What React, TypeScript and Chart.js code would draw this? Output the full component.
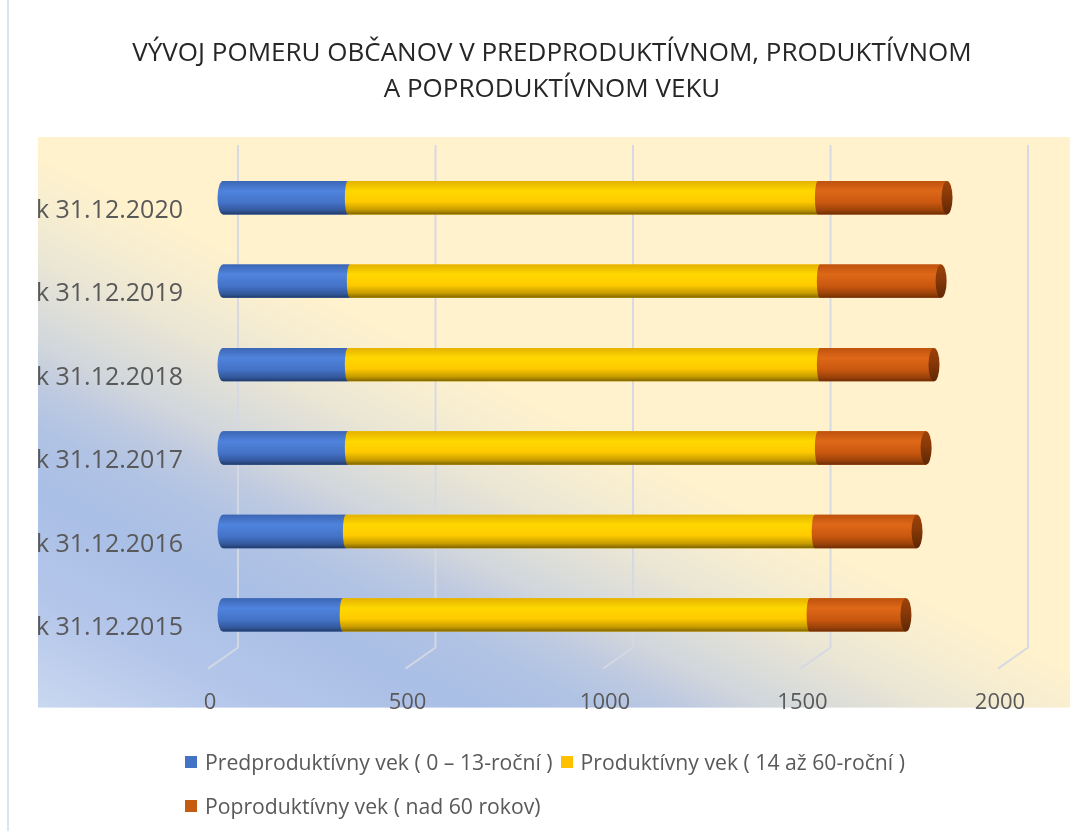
import React, { useEffect, useRef } from "react";
import { Chart, registerables } from "chart.js";

Chart.register(...registerables);

// ---- data ----
const categories = [
  "k 31.12.2015",
  "k 31.12.2016",
  "k 31.12.2017",
  "k 31.12.2018",
  "k 31.12.2019",
  "k 31.12.2020",
];
const preProductive = [303, 311, 316, 316, 321, 316];
const productive = [1182, 1187, 1190, 1195, 1190, 1190];
const postProductive = [244, 259, 274, 289, 307, 327];
const seriesNames = [
  "Predproduktívny vek ( 0 – 13-roční )",
  "Produktívny vek ( 14 až 60-roční )",
  "Poproduktívny vek ( nad 60 rokov)",
];
const xTickValues = [0, 500, 1000, 1500, 2000];
const titleLines = [
  "VÝVOJ POMERU OBČANOV V PREDPRODUKTÍVNOM, PRODUKTÍVNOM",
  "A POPRODUKTÍVNOM VEKU",
];

// ---- styles ----
const FONT = "'Open Sans', 'Noto Sans', sans-serif";
const seriesColors = ["#4472C4", "#FFC000", "#C55A11"];
const shadeStops: [number, string][][] = [
  [
    [0, "#3C66B4"],
    [0.3, "#4F83DD"],
    [0.65, "#4473C7"],
    [0.88, "#33589C"],
    [1, "#213A68"],
  ],
  [
    [0, "#E3B200"],
    [0.3, "#FFD800"],
    [0.62, "#FFCA00"],
    [0.86, "#C79C00"],
    [1, "#7E6400"],
  ],
  [
    [0, "#BF520E"],
    [0.3, "#DE6818"],
    [0.65, "#C9570F"],
    [0.88, "#9A420A"],
    [1, "#6E2D05"],
  ],
];

const titleShiftPlugin = {
  id: "titleShift",
  afterLayout(chart: any) {
    const tb = chart.titleBlock;
    if (tb) {
      tb.left = 38;
      tb.right = chart.width - 19;
    }
  },
};

const backgroundPlugin = {
  id: "bgGradient",
  beforeDraw(chart: any) {
    const { ctx, chartArea } = chart;
    if (!chartArea) return;
    const left = chart.scales.y.left;
    const top = chartArea.top - 19;
    const right = chart.width - 15;
    const bottom = chartArea.bottom + 51;
    const nx = 0.447;
    const ny = -0.894;
    const len = 971;
    const g = ctx.createLinearGradient(left, bottom, left + nx * len, bottom + ny * len);
    g.addColorStop(0, "#C9D8F0");
    g.addColorStop(0.1, "#B4C6EA");
    g.addColorStop(0.2, "#AABFE6");
    g.addColorStop(0.26, "#B1C3E4");
    g.addColorStop(0.3, "#BFCAE0");
    g.addColorStop(0.335, "#D0D6DC");
    g.addColorStop(0.38, "#DFDFD8");
    g.addColorStop(0.42, "#ECE7D4");
    g.addColorStop(0.47, "#F8EED0");
    g.addColorStop(0.51, "#FFF2CC");
    g.addColorStop(1, "#FFF2CC");
    ctx.save();
    ctx.fillStyle = g;
    ctx.fillRect(left, top, right - left, bottom - top);
    ctx.restore();
  },
};

const gridPlugin = {
  id: "grid3d",
  beforeDatasetsDraw(chart: any) {
    const { ctx, chartArea } = chart;
    const xs = chart.scales.x;
    ctx.save();
    ctx.strokeStyle = "rgba(212,216,228,0.95)";
    ctx.lineWidth = 2;
    xTickValues.forEach((v) => {
      const xv = xs.getPixelForValue(v);
      ctx.beginPath();
      ctx.moveTo(xv + 15, chartArea.top - 11);
      ctx.lineTo(xv + 15, chartArea.bottom - 9);
      ctx.lineTo(xv - 15, chartArea.bottom + 12);
      ctx.stroke();
    });
    ctx.restore();
  },
};

const cylinderPlugin = {
  id: "cylinders",
  afterDatasetsDraw(chart: any) {
    const { ctx } = chart;
    const n = chart.data.datasets.length;
    ctx.save();
    for (let i = 0; i < n; i++) {
      const meta = chart.getDatasetMeta(i);
      meta.data.forEach((el: any) => {
        const { x, y, base, height } = el.getProps(["x", "y", "base", "height"], true);
        const top = y - height / 2;
        const rxLeft = i === 0 ? 5.5 : 3;
        const g = ctx.createLinearGradient(0, top, 0, top + height);
        shadeStops[i].forEach(([o, c]) => g.addColorStop(o, c));
        ctx.beginPath();
        ctx.moveTo(x, top);
        ctx.lineTo(base, top);
        ctx.ellipse(base, y, rxLeft, height / 2, 0, -Math.PI / 2, Math.PI / 2, true);
        ctx.lineTo(x, top + height);
        ctx.closePath();
        ctx.fillStyle = g;
        ctx.fill();
        if (i === n - 1) {
          const cg = ctx.createLinearGradient(0, top, 0, top + height);
          cg.addColorStop(0, "#9C4209");
          cg.addColorStop(0.4, "#8A3A08");
          cg.addColorStop(1, "#5E2704");
          ctx.beginPath();
          ctx.ellipse(x, y, 5.5, height / 2, 0, 0, Math.PI * 2);
          ctx.fillStyle = cg;
          ctx.fill();
        }
      });
    }
    ctx.restore();
  },
};

export default function App() {
  const canvasRef = useRef<HTMLCanvasElement | null>(null);

  useEffect(() => {
    if (!canvasRef.current) return;
    const values = [preProductive, productive, postProductive];
    const chart = new Chart(canvasRef.current, {
      type: "bar",
      data: {
        labels: categories,
        datasets: values.map((d, i) => ({
          label: seriesNames[i],
          data: d,
          backgroundColor: seriesColors[i],
          borderWidth: 0,
          categoryPercentage: 1,
          barPercentage: 0.4,
        })),
      },
      options: {
        indexAxis: "y",
        responsive: false,
        animation: false,
        layout: { padding: { left: 38, right: 72, top: 0, bottom: 11 } },
        scales: {
          x: {
            stacked: true,
            min: 0,
            max: 2000,
            grid: { display: false, drawTicks: false },
            border: { display: false },
            ticks: {
              stepSize: 500,
              padding: 33,
              labelOffset: -13,
              color: "#595959",
              font: { family: FONT, size: 22 },
              callback: (v: any) => String(v),
            },
          },
          y: {
            stacked: true,
            reverse: true,
            grid: { display: false, drawTicks: false },
            border: { display: false },
            ticks: {
              padding: 40,
              labelOffset: 13,
              color: "#595959",
              font: { family: FONT, size: 25 },
            },
            afterFit: (s: any) => {
              s.width = 185;
            },
          },
        },
        plugins: {
          legend: { display: false },
          tooltip: { enabled: false },
          title: {
            display: true,
            text: titleLines,
            color: "#262626",
            font: { family: FONT, size: 26, weight: "normal", lineHeight: 1.385 },
            padding: { top: 36, bottom: 48 },
          },
        },
      },
      plugins: [titleShiftPlugin, backgroundPlugin, gridPlugin, cylinderPlugin],
    } as any);
    return () => chart.destroy();
  }, []);

  return (
    <div style={{ position: "absolute", left: 0, top: 0, width: 1085, height: 831, background: "#fff" }}>
      <div style={{ position: "absolute", left: 7, top: 0, width: 2, height: 831, background: "#DCE4F2" }} />
      <canvas ref={canvasRef} width={1085} height={760} style={{ position: "absolute", left: 0, top: 0 }} />
      <div
        style={{
          position: "absolute",
          left: 185,
          top: 749,
          width: 790,
          display: "flex",
          flexWrap: "wrap",
          rowGap: 18,
          fontFamily: FONT,
          fontSize: 21.2,
          color: "#595959",
          lineHeight: "26px",
        }}
      >
        {seriesNames.map((name, i) => (
          <div key={name} style={{ display: "flex", alignItems: "center", marginRight: 8, whiteSpace: "nowrap" }}>
            <span style={{ display: "inline-block", width: 12, height: 12, background: seriesColors[i], marginRight: 8 }} />
            <span>{name}</span>
          </div>
        ))}
      </div>
    </div>
  );
}
